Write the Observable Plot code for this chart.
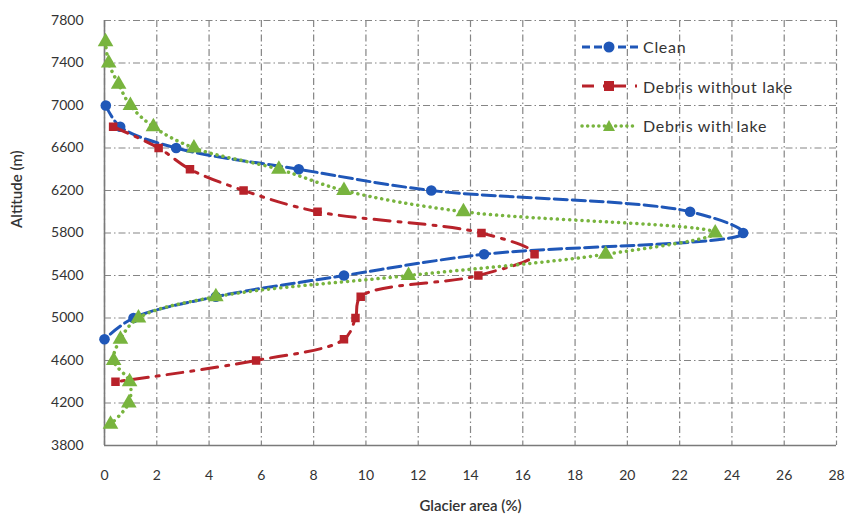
<!DOCTYPE html>
<html>
<head>
<meta charset="utf-8">
<script src="https://cdn.jsdelivr.net/npm/d3@7"></script>
<script src="https://cdn.jsdelivr.net/npm/@observablehq/plot@0.6"></script>
<style>
  html, body { margin: 0; padding: 0; background: #fff; }
  #wrap { position: relative; width: 845px; height: 520px; font-family: Lato, "Open Sans", sans-serif; }
  #legend { position: absolute; left: 578px; top: 27px; }
  #legend .row { display: flex; align-items: center; height: 39.5px; }
  #legend .row span { font-size: 16px; color: #333; letter-spacing: 0.7px; margin-left: 5px; }
</style>
</head>
<body>
<div id="wrap"></div>
<script>
// Altitude levels (m) and glacier area (%) per series
const altClean = [7000, 6800, 6600, 6400, 6200, 6000, 5800, 5600, 5400, 5200, 5000, 4800];
const areaClean = [0.05, 0.6, 2.74, 7.43, 12.5, 22.4, 24.43, 14.52, 9.16, 4.26, 1.11, 0];

const altNoLake = [6800, 6600, 6400, 6200, 6000, 5800, 5600, 5400, 5200, 5000, 4800, 4600, 4400];
const areaNoLake = [0.33, 2.07, 3.27, 5.32, 8.15, 14.42, 16.45, 14.3, 9.8, 9.6, 9.16, 5.8, 0.42];

const altLake = [7600, 7400, 7200, 7000, 6800, 6600, 6400, 6200, 6000, 5800, 5600, 5400, 5200, 5000, 4800, 4600, 4400, 4200, 4000];
const areaLake = [0.04, 0.16, 0.54, 0.99, 1.87, 3.42, 6.67, 9.16, 13.73, 23.36, 19.17, 11.63, 4.26, 1.3, 0.61, 0.35, 0.96, 0.93, 0.23];

const xTicks = [0, 2, 4, 6, 8, 10, 12, 14, 16, 18, 20, 22, 24, 26, 28];
const yTicks = [3800, 4200, 4600, 5000, 5400, 5800, 6200, 6600, 7000, 7400, 7800];

const seriesNames = ["Clean", "Debris without lake", "Debris with lake"];
const colors = ["#1f57b8", "#b8222a", "#78b43e"];

const toRows = (alts, areas) => alts.map((a, i) => ({alt: a, area: areas[i]}));
const clean = toRows(altClean, areaClean);
const noLake = toRows(altNoLake, areaNoLake);
const lake = toRows(altLake, areaLake);

const gridStyle = {stroke: "#858585", strokeOpacity: 1, strokeWidth: 1.2, strokeDasharray: "7,3,1.5,3"};

const chart = Plot.plot({
  width: 845,
  height: 520,
  marginLeft: 104,
  marginRight: 9,
  marginTop: 20,
  marginBottom: 75,
  style: {fontFamily: "Lato, 'Open Sans', sans-serif", background: "#fff"},
  x: {domain: [0, 28]},
  y: {domain: [3800, 7800]},
  marks: [
    Plot.gridX(xTicks, gridStyle),
    Plot.gridY(yTicks, gridStyle),
    Plot.ruleX([0], {stroke: "#7a7a7a", strokeWidth: 1.6}),
    Plot.ruleY([3800], {stroke: "#7a7a7a", strokeWidth: 1.6}),
    Plot.axisX(xTicks, {tickSize: 0, tickPadding: 25, fontSize: 14, fill: "#333", label: null, tickFormat: d3.format("d"), style: {letterSpacing: "0.6px"}}),
    Plot.axisY(yTicks, {tickSize: 0, tickPadding: 21, fontSize: 14, fill: "#333", label: null, tickFormat: d3.format("d"), style: {letterSpacing: "1px"}}),
    Plot.text(["Glacier area (%)"], {frameAnchor: "bottom", dy: 65, fontSize: 15, fontWeight: 600, fill: "#333", style: {letterSpacing: "0.5px"}}),
    Plot.text(["Altitude (m)"], {frameAnchor: "left", dx: -87, dy: -5, rotate: -90, fontSize: 15, fontWeight: 600, fill: "#333", style: {letterSpacing: "0.5px"}}),
    // Clean
    Plot.line(clean, {x: "area", y: "alt", stroke: colors[0], strokeWidth: 3, strokeDasharray: "13,5", curve: "catmull-rom"}),
    Plot.dot(clean, {x: "area", y: "alt", symbol: "circle", r: 5.3, fill: colors[0]}),
    // Debris without lake
    Plot.line(noLake, {x: "area", y: "alt", stroke: colors[1], strokeWidth: 3, strokeDasharray: "16,8,3,8", curve: "catmull-rom"}),
    Plot.dot(noLake, {x: "area", y: "alt", symbol: "square", r: 4.8, fill: colors[1]}),
    // Debris with lake
    Plot.line(lake, {x: "area", y: "alt", stroke: colors[2], strokeWidth: 3.5, strokeDasharray: "0.1,6", strokeLinecap: "round", curve: "catmull-rom"}),
    Plot.dot(lake, {x: "area", y: "alt", symbol: "triangle", r: 5.8, fill: colors[2]})
  ]
});

const wrap = document.getElementById("wrap");
wrap.appendChild(chart);

// Legend (overlay on the plot area, as in the original)
const legend = document.createElement("div");
legend.id = "legend";
const dashes = ["8,4", "12,9,2,9", "0.1,5.5"];
const widths = [3, 3, 3.5];
const markerSvg = [
  (c) => `<circle cx="31" cy="9" r="5.5" fill="${c}"/>`,
  (c) => `<rect x="26" y="4" width="10" height="10" fill="${c}"/>`,
  (c) => `<path d="M31,3 L37,14 L25,14 Z" fill="${c}"/>`
];
seriesNames.forEach((name, i) => {
  const row = document.createElement("div");
  row.className = "row";
  row.innerHTML = `<svg width="60" height="18"><line x1="4" y1="9" x2="60" y2="9" stroke="${colors[i]}" stroke-width="${widths[i]}" stroke-dasharray="${dashes[i]}" stroke-linecap="${i === 2 ? "round" : "butt"}"/>${markerSvg[i](colors[i])}</svg><span>${name}</span>`;
  legend.appendChild(row);
});
wrap.appendChild(legend);
</script>
</body>
</html>
